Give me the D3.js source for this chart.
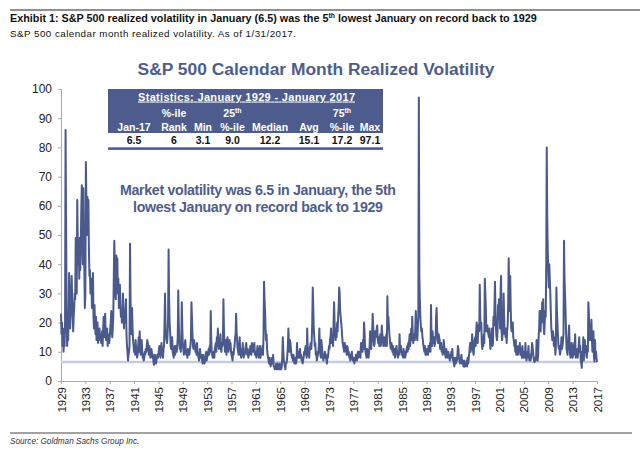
<!DOCTYPE html>
<html><head><meta charset="utf-8">
<script src="https://cdn.jsdelivr.net/npm/d3@7"></script>
<style>body{margin:0;background:#fff}svg{display:block}text{font-family:"Liberation Sans",Arial,Helvetica,sans-serif}</style>
</head><body>
<svg id="c" width="640" height="449"></svg>
<script>
// Monthly realized volatility, Jan 1929 .. Jan 2017 (one row per year)
const monthlyVol = [
23,16,20,12,18,10,14,12,20,86,55,25,
12,15,14,22,37,30,18,22,26,36,28,24,
17,22,25,30,28,49,35,30,62,48,40,45,
35,49,38,47,59,67,50,40,66,45,38,25,
30,75,62,50,63,55,62,45,36,38,30,35,
35,25,28,37,22,18,26,20,16,22,14,18,
20,13,17,15,18,14,16,13,15,17,12,18,
22,15,18,23,16,14,15,18,12,16,14,13,
15,18,20,24,17,15,18,22,35,48,40,30,
28,43,38,42,30,35,25,28,33,26,22,24,
20,22,30,25,18,22,20,24,28,16,12,10,
7,9,10,12,47,28,20,16,25,18,14,12,
10,12,9,14,11,10,8,9,12,15,10,17,
12,9,11,14,10,8,9,7,8,10,9,11,
10,12,14,13,11,9,12,10,8,9,11,10,
8,9,7,5.5,7,9,8,6,7,8,9,8,
9,11,12,10,8,11,13,9,10,8,11,12,
20,30,18,15,14,13,16,22,45,28,20,17,
12,11,14,15,10,9,8,10,12,9,11,12,
10,12,15,31,20,14,11,12,10,13,27,18,
12,11,9,10,13,14,10,9,10,8,11,9,
10,9,11,12,15,27,22,16,12,11,14,13,
12,10,11,9,13,10,9,8,7,9,11,8,
9,8,7,6,9,8,7,6,8,9,10,7,
8,9,10,11,9,12,10,24,14,10,9,8,
9,10,8,11,12,13,10,15,12,18,13,11,
14,12,16,11,10,13,12,14,28,18,13,10,
11,14,9,12,15,13,10,12,14,11,13,10,
9,8,7,10,9,11,12,15,16,23,17,14,
11,10,9,12,15,10,9,8,11,10,13,9,
8,10,9,11,12,13,10,9,11,8,10,9,
10,12,11,9,13,12,11,10,12,13,9,10,
9,8,10,12,11,9,8,10,12,8,11,9,
10,12,9,15,34,28,24,18,14,16,11,9,
8,7,6,8,7,5,6,7,8,6,9,5,
5,4,4,5,6,4,5,6,4,5,4,6,
4,5,4,5,9,15,10,7,6,5,4,6,
6,7,9,12,18,12,10,14,13,11,9,8,
8,7,9,7,6,8,7,6,7,13,9,8,
10,8,9,11,8,9,7,8,6,7,8,10,
9,11,12,10,8,18,12,9,10,8,11,12,
13,11,14,20,32,25,18,15,12,13,9,10,
7,8,9,10,12,18,11,9,8,14,12,10,
8,7,9,8,10,9,8,7,6,9,8,10,
12,11,14,15,18,13,16,14,12,20,27,20,
16,14,18,15,20,17,22,25,32,30,24,22,
20,18,15,13,12,11,10,13,12,11,10,9,
12,11,9,10,8,9,7,8,9,10,8,7,
8,7,6,8,7,9,8,7,9,10,8,9,
10,9,8,13,12,11,10,14,11,20,17,12,
10,9,8,11,10,9,8,10,12,17,13,11,
13,16,23,19,14,12,13,17,15,16,18,19,
14,13,15,12,13,16,12,14,19,16,15,12,
13,15,14,12,13,16,12,29,20,22,19,16,
14,12,11,13,12,10,12,9,10,11,8,9,
11,12,10,9,8,10,9,16,11,10,12,9,
10,9,8,11,9,10,8,9,10,11,12,10,
13,11,14,16,12,15,18,14,22,16,13,15,
16,14,18,24,20,15,14,18,22,97.1,36,28,
22,19,17,18,15,14,12,11,10,12,9,10,
9,11,10,9,12,10,11,13,10,26,14,12,
17,14,13,15,12,13,14,22,25,18,15,13,
16,15,14,11,12,13,10,11,9,10,14,12,
10,9,8,11,10,9,8,10,9,8,7,9,
8,10,9,11,7,8,6,5,7,8,6,7,
7,9,12,11,8,7,6,7,8,9,6,7,
6,5,7,4.9,5,6,6,7,5,8,6,7,
9,11,13,10,12,11,16,13,10,9,12,14,
15,12,17,20,16,13,19,18,17,33,22,18,
20,13,11,14,12,16,13,35,30,25,17,18,
19,17,16,15,18,14,11,16,14,18,12,13,
22,19,25,34,24,18,15,14,17,26,25,28,
24,18,30,36,17,14,16,18,30,22,16,17,
15,18,13,17,19,26,42,30,24,36,25,18,
17,19,20,15,14,12,13,10,14,9,12,10,
9,10,12,11,13,9,10,11,8,12,10,8,
9,10,8,13,9,7,8,10,9,12,8,7,
9,7,8,10,13,12,10,8,7,6.5,8,7,
8,14,12,7,9,15,18,24,20,17,24,20,
27,22,28,19,16,20,24,22,40,80,55,45,
37,32,40,35,30,24,18,16,14,17,16,12,
15,13,9,12,32,24,20,16,12,11,12,9,
10,12,15,11,12,14,16,48,35,30,24,17,
11,10,9,12,16,19,13,9,8,11,13,12,
8,10,9,13,12,16,8,10,9,11,8,10,
12,15,10,12,7,6,4.5,10,9,15,7,11,
14,10,12,9,8,12,10,27,23,15,14,18,
18,21,14,10,11,17,8,6.7,14,9,10,8,
6.5
];
const startYear = 1929;
const endYear = 2017;
const yTickValues = [0,10,20,30,40,50,60,70,80,90,100];
const xTickYears = d3.range(1929, 2018, 4);
const januaryLevel = 6.5;

const statTitle = "Statistics: January 1929 - January 2017";
const statTopRow = ["", "%-ile", "", "25", "", "", "75", ""];
const statTopSup = ["", "", "", "th", "", "", "th", ""];
const statHeaders = ["Jan-17", "Rank", "Min", "%-ile", "Median", "Avg", "%-ile", "Max"];
const statValues = ["6.5", "6", "3.1", "9.0", "12.2", "15.1", "17.2", "97.1"];
const statColX = [134, 174, 203, 232.5, 270, 309, 342, 370];

const exhibitTitle = "Exhibit 1: S&P 500 realized volatility in January (6.5) was the 5";
const subtitle = "S&P 500 calendar month realized volatility. As of 1/31/2017.";
const chartTitle = "S&P 500 Calendar Month Realized Volatility";
const noteLines = ["Market volatility was 6.5 in January, the 5th", "lowest January on record back to 1929"];
const sourceText = "Source: Goldman Sachs Group Inc.";

const blue = "#4a5a8c";
const svg = d3.select("#c");

const x = d3.scaleLinear().domain([startYear, endYear]).range([61, 597]);
const y = d3.scaleLinear().domain([0, 100]).range([381, 89]);

// header
svg.append("line").attr("x1", 10).attr("x2", 640).attr("y1", 10).attr("y2", 10)
  .attr("stroke", "#222").attr("stroke-width", 1.2);
const et = svg.append("text").attr("x", 10).attr("y", 21.5).attr("font-size", 10.8)
  .attr("font-weight", "bold").attr("fill", "#111");
et.append("tspan").text(exhibitTitle);
et.append("tspan").attr("font-size", 7).attr("dy", -3.8).text("th");
et.append("tspan").attr("dy", 3.8).text(" lowest January on record back to 1929");
svg.append("text").attr("x", 10).attr("y", 37).attr("font-size", 9.8).attr("fill", "#111")
  .attr("textLength", 286).text(subtitle);

svg.append("text").attr("x", 316).attr("y", 75).attr("text-anchor", "middle")
  .attr("font-size", 17.4).attr("font-weight", "bold").attr("fill", "#4e5d8d")
  .text(chartTitle);

// axes
const gy = svg.append("g").attr("transform", "translate(61,0)")
  .call(d3.axisLeft(y).tickValues(yTickValues).tickSize(3).tickPadding(6));
gy.select(".domain").attr("stroke", "#aaa");
gy.selectAll(".tick line").attr("stroke", "#aaa");
gy.selectAll(".tick text").attr("font-size", 12).attr("fill", "#222")
  .attr("font-family", "'Liberation Sans',Arial,sans-serif");

const gx = svg.append("g").attr("transform", "translate(0,381)")
  .call(d3.axisBottom(x).tickValues(xTickYears).tickFormat(d3.format("d")).tickSize(3).tickSizeOuter(0));
gx.select(".domain").attr("stroke", "#aaa");
gx.selectAll(".tick line").attr("stroke", "#aaa");
gx.selectAll(".tick text").attr("font-size", 11.5).attr("fill", "#222")
  .attr("font-family", "'Liberation Sans',Arial,sans-serif")
  .attr("transform", "rotate(-90)").attr("text-anchor", "end")
  .attr("x", -6).attr("y", 0).attr("dy", "0.35em");

// reference line at January level
svg.append("line").attr("x1", x(startYear)).attr("x2", x(endYear))
  .attr("y1", y(januaryLevel)).attr("y2", y(januaryLevel))
  .attr("stroke", "#c4cce0").attr("stroke-width", 2.4);

// series
const line = d3.line().x((d, i) => x(startYear + i / 12)).y(d => y(d));
svg.append("path").datum(monthlyVol).attr("d", line).attr("fill", "none")
  .attr("stroke", blue).attr("stroke-width", 2).attr("stroke-linejoin", "round");

// stats table
svg.append("rect").attr("x", 108).attr("y", 89).attr("width", 275).attr("height", 44).attr("fill", "#4d5c8c");
svg.append("rect").attr("x", 108).attr("y", 133).attr("width", 275).attr("height", 14).attr("fill", "#fff");
svg.append("rect").attr("x", 108).attr("y", 147.3).attr("width", 275).attr("height", 2.6).attr("fill", "#4d5c8c");
svg.append("text").attr("x", 246.5).attr("y", 100.5).attr("text-anchor", "middle")
  .attr("font-size", 11).attr("font-weight", "bold").attr("fill", "#fff")
  .attr("text-decoration", "underline").attr("textLength", 217).text(statTitle);
statTopRow.forEach((t, i) => {
  if (!t) return;
  const tx = svg.append("text").attr("x", statColX[i]).attr("y", 117).attr("text-anchor", "middle")
    .attr("font-size", 10.5).attr("font-weight", "bold").attr("fill", "#fff");
  tx.append("tspan").text(t);
  if (statTopSup[i]) tx.append("tspan").attr("font-size", 7).attr("dy", -4).text(statTopSup[i]);
});
statHeaders.forEach((t, i) => {
  svg.append("text").attr("x", statColX[i]).attr("y", 130.5).attr("text-anchor", "middle")
    .attr("font-size", 10.5).attr("font-weight", "bold").attr("fill", "#fff").text(t);
});
statValues.forEach((t, i) => {
  svg.append("text").attr("x", statColX[i]).attr("y", 144.3).attr("text-anchor", "middle")
    .attr("font-size", 10.5).attr("font-weight", "bold").attr("fill", "#111").text(t);
});

// annotation
const noteLen = [276, 250];
noteLines.forEach((t, i) => {
  svg.append("text").attr("x", 258).attr("y", 195 + i * 16.5).attr("text-anchor", "middle")
    .attr("font-size", 14.2).attr("font-weight", "bold").attr("fill", "#4e5d8d")
    .attr("textLength", noteLen[i]).text(t);
});

// footer
svg.append("line").attr("x1", 10).attr("x2", 632).attr("y1", 433).attr("y2", 433)
  .attr("stroke", "#444").attr("stroke-width", 1);
svg.append("text").attr("x", 10).attr("y", 443.5).attr("font-size", 8.2).attr("font-style", "italic")
  .attr("fill", "#333").text(sourceText);
</script>
</body></html>
